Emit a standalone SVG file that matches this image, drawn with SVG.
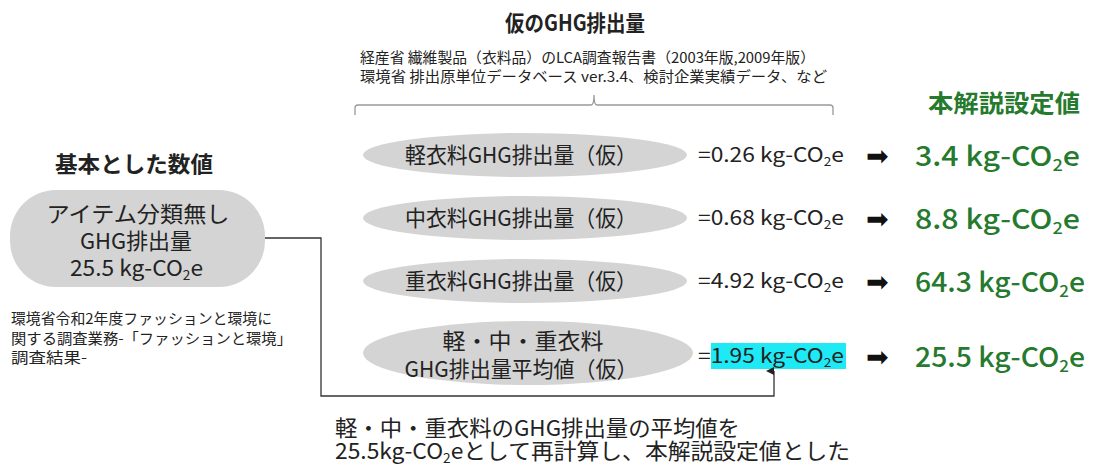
<svg xmlns="http://www.w3.org/2000/svg" width="1100" height="467" viewBox="0 0 1100 467">
<style>
text{font-family:"Noto Sans CJK JP","Noto Sans CJK SC",sans-serif;fill:#222;}
.h{font-size:22px;font-weight:bold;}
.src{font-size:14.5px;}
.n{font-size:22px;}
.v{font-size:20px;}
.g{font-size:27px;font-weight:500;fill:#267a2e;}
.gh{font-size:24px;font-weight:bold;fill:#267a2e;}
.ar{font-family:"DejaVu Sans",sans-serif;font-size:27px;fill:#111;}
.shape{fill:#d4d4d4;}
.sub{font-size:0.6em;}
</style>
<defs>
<marker id="arr" viewBox="0 0 10 10" refX="5" refY="10" markerWidth="8" markerHeight="9" markerUnits="userSpaceOnUse" orient="auto-start-reverse">
<path d="M0,10 L5,0 L10,10 Z" fill="#222"/>
</marker>
</defs>

<g id="title">
<text class="h" x="575" y="31" text-anchor="middle" textLength="140" lengthAdjust="spacingAndGlyphs">仮のGHG排出量</text>
<text class="src" x="360" y="63" textLength="455" lengthAdjust="spacingAndGlyphs">経産省 繊維製品（衣料品）のLCA調査報告書（2003年版,2009年版）</text>
<text class="src" x="360" y="82" textLength="467" lengthAdjust="spacingAndGlyphs">環境省 排出原単位データベース ver.3.4、検討企業実績データ、など</text>
<path d="M355,115 V108 Q355,105 358,105 H591 Q594,105 594,95 Q594,105 597,105 H830 Q833,105 833,108 V115" fill="none" stroke="#999" stroke-width="1.3"/>
</g>

<g id="heading-right">
<text class="gh" x="928" y="112" textLength="152" lengthAdjust="spacingAndGlyphs">本解説設定値</text>
</g>

<g id="heading-left">
<text class="h" x="55" y="172" textLength="158" lengthAdjust="spacingAndGlyphs">基本とした数値</text>
</g>

<g id="base-node">
<rect class="shape" x="10" y="190" width="255" height="97" rx="46" ry="46"/>
<text class="n" x="138" y="222" text-anchor="middle" textLength="183" lengthAdjust="spacingAndGlyphs">アイテム分類無し</text>
<text class="n" x="136" y="249" text-anchor="middle" textLength="112" lengthAdjust="spacingAndGlyphs">GHG排出量</text>
<text class="n" x="70" y="276" textLength="133" lengthAdjust="spacingAndGlyphs">25.5 kg-CO<tspan class="sub" dy="4">2</tspan><tspan dy="-4">e</tspan></text>
</g>

<g id="base-source">
<text class="src" x="11" y="324" textLength="261" lengthAdjust="spacingAndGlyphs">環境省令和2年度ファッションと環境に</text>
<text class="src" x="11" y="344" textLength="281" lengthAdjust="spacingAndGlyphs">関する調査業務-「ファッションと環境」</text>
<text class="src" x="11" y="363" textLength="76" lengthAdjust="spacingAndGlyphs">調査結果-</text>
</g>

<g id="light">
<ellipse class="shape" cx="525" cy="155" rx="162" ry="22"/>
<text class="n" x="521" y="163" text-anchor="middle" textLength="232" lengthAdjust="spacingAndGlyphs">軽衣料GHG排出量（仮）</text>
<text class="v" x="698" y="162" textLength="146" lengthAdjust="spacingAndGlyphs">=0.26 kg-CO<tspan class="sub" dy="4">2</tspan><tspan dy="-4">e</tspan></text>
<text class="ar" x="866" y="165">➡</text>
<text class="g" x="915" y="166" textLength="165" lengthAdjust="spacingAndGlyphs">3.4 kg-CO<tspan class="sub" dy="5">2</tspan><tspan dy="-5">e</tspan></text>
</g>

<g id="medium">
<ellipse class="shape" cx="525" cy="218" rx="162" ry="22"/>
<text class="n" x="521" y="226" text-anchor="middle" textLength="232" lengthAdjust="spacingAndGlyphs">中衣料GHG排出量（仮）</text>
<text class="v" x="698" y="225" textLength="146" lengthAdjust="spacingAndGlyphs">=0.68 kg-CO<tspan class="sub" dy="4">2</tspan><tspan dy="-4">e</tspan></text>
<text class="ar" x="866" y="228">➡</text>
<text class="g" x="915" y="229" textLength="165" lengthAdjust="spacingAndGlyphs">8.8 kg-CO<tspan class="sub" dy="5">2</tspan><tspan dy="-5">e</tspan></text>
</g>

<g id="heavy">
<ellipse class="shape" cx="525" cy="281" rx="162" ry="22"/>
<text class="n" x="521" y="289" text-anchor="middle" textLength="232" lengthAdjust="spacingAndGlyphs">重衣料GHG排出量（仮）</text>
<text class="v" x="698" y="288" textLength="146" lengthAdjust="spacingAndGlyphs">=4.92 kg-CO<tspan class="sub" dy="4">2</tspan><tspan dy="-4">e</tspan></text>
<text class="ar" x="866" y="291">➡</text>
<text class="g" x="915" y="292" textLength="170" lengthAdjust="spacingAndGlyphs">64.3 kg-CO<tspan class="sub" dy="5">2</tspan><tspan dy="-5">e</tspan></text>
</g>

<g id="average">
<ellipse class="shape" cx="528" cy="353" rx="165" ry="32"/>
<text class="n" x="523" y="349" text-anchor="middle" textLength="161" lengthAdjust="spacingAndGlyphs">軽・中・重衣料</text>
<text class="n" x="521" y="377" text-anchor="middle" textLength="233" lengthAdjust="spacingAndGlyphs">GHG排出量平均値（仮）</text>
<rect x="711" y="343" width="135" height="26" fill="#1eeaf5"/>
<text class="v" x="698" y="363" textLength="146" lengthAdjust="spacingAndGlyphs">=1.95 kg-CO<tspan class="sub" dy="4">2</tspan><tspan dy="-4">e</tspan></text>
<text class="ar" x="866" y="366">➡</text>
<text class="g" x="915" y="367" textLength="170" lengthAdjust="spacingAndGlyphs">25.5 kg-CO<tspan class="sub" dy="5">2</tspan><tspan dy="-5">e</tspan></text>
</g>

<g id="connectors">
<path d="M265,238 H321 V396 H774 V371" fill="none" stroke="#333" stroke-width="1.3" marker-end="url(#arr)"/>
</g>

<g id="note">
<text class="n" x="335" y="436" textLength="405" lengthAdjust="spacingAndGlyphs">軽・中・重衣料のGHG排出量の平均値を</text>
<text class="n" x="335" y="459" textLength="515" lengthAdjust="spacingAndGlyphs">25.5kg-CO<tspan class="sub" dy="4">2</tspan><tspan dy="-4">eとして再計算し、本解説設定値とした</tspan></text>
</g>
</svg>
